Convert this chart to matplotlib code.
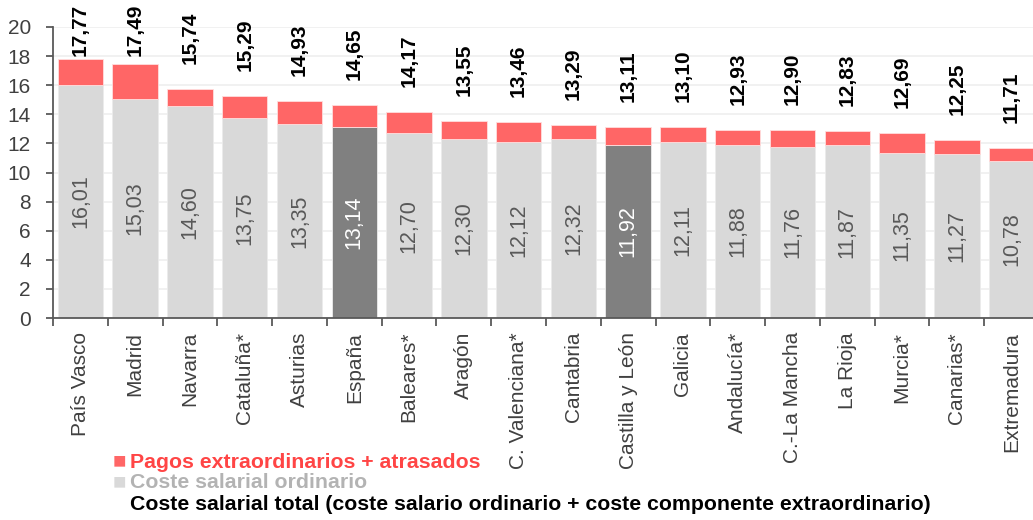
import matplotlib.pyplot as plt
import numpy as np

plt.rcParams['font.family'] = ['Liberation Sans', 'DejaVu Sans']

# data
regiones = ['País Vasco', 'Madrid', 'Navarra', 'Cataluña*', 'Asturias', 'España',
            'Baleares*', 'Aragón', 'C. Valenciana*', 'Cantabria', 'Castilla y León',
            'Galicia', 'Andalucía*', 'C.-La Mancha', 'La Rioja', 'Murcia*',
            'Canarias*', 'Extremadura']
ordinario = [16.01, 15.03, 14.60, 13.75, 13.35, 13.14, 12.70, 12.30, 12.12,
             12.32, 11.92, 12.11, 11.88, 11.76, 11.87, 11.35, 11.27, 10.78]
total = [17.77, 17.49, 15.74, 15.29, 14.93, 14.65, 14.17, 13.55, 13.46,
         13.29, 13.11, 13.10, 12.93, 12.90, 12.83, 12.69, 12.25, 11.71]
destacados = ['España', 'Castilla y León']

ordinario = np.array(ordinario)
total = np.array(total)
extra = total - ordinario

fig = plt.figure(figsize=(10.33, 5.2), dpi=100)
ax = fig.add_axes([53 / 1033, 202 / 520, 986 / 1033, 291 / 520])

x = np.arange(len(regiones))
col_base = ['#808080' if r in destacados else '#d9d9d9' for r in regiones]
ax.bar(x, ordinario, width=0.83, color=col_base, edgecolor='#ececec', linewidth=0.6, zorder=2)
ax.bar(x, extra, bottom=ordinario, width=0.83, color='#ff6666', edgecolor='#ffdede',
       linewidth=0.6, zorder=2)

# labels inside the bars
for i, r in enumerate(regiones):
    c = 'white' if r in destacados else '#595959'
    ax.text(x[i], ordinario[i] / 2, f'{ordinario[i]:.2f}'.replace('.', ','),
            rotation=90, ha='center', va='center', fontsize=15.5, color=c, zorder=3)

# total labels above the bars (clamped near the top)
for i in range(len(regiones)):
    y = min(total[i] + 1.72, 18.0)
    ax.text(x[i], y, f'{total[i]:.2f}'.replace('.', ','), rotation=90,
            ha='center', va='bottom', fontsize=15, fontweight='bold', color='black',
            clip_on=False, zorder=3)

ax.set_xlim(-0.5, len(regiones) - 0.5)
ax.set_ylim(0, 20)
ax.set_yticks(np.arange(0, 21, 2))
ax.yaxis.grid(True, color='#efefef', linewidth=1.2, zorder=0)
ax.set_axisbelow(True)

ax.set_xticks(x)
ax.set_xticklabels(regiones, rotation=90, fontsize=15, color='#404040')
ax.set_xticks(np.arange(len(regiones) + 1) - 0.5, minor=True)
ax.tick_params(axis='x', which='major', length=0, pad=10)
ax.tick_params(axis='x', which='minor', length=6, width=1.3, color='#595959')
ax.tick_params(axis='y', labelsize=15, labelcolor='#404040', length=5, width=1.3,
               color='#595959', pad=11)

for s in ['top', 'right']:
    ax.spines[s].set_visible(False)
for s in ['left', 'bottom']:
    ax.spines[s].set_color('#595959')
    ax.spines[s].set_linewidth(1.3)

# legend
fig.text(113 / 1033, 1 - 462 / 520, '■', fontsize=16, color='#ff6666', va='center', ha='left')
fig.text(130 / 1033, 1 - 462 / 520, 'Pagos extraordinarios + atrasados', fontsize=15.3,
         fontweight='bold', color='#ff4545', va='center', ha='left')
fig.text(113 / 1033, 1 - 483 / 520, '■', fontsize=16, color='#d9d9d9', va='center', ha='left')
fig.text(130 / 1033, 1 - 483 / 520, 'Coste salarial ordinario', fontsize=15.3,
         fontweight='bold', color='#b3b3b3', va='center', ha='left')
fig.text(130 / 1033, 1 - 505 / 520,
         'Coste salarial total (coste salario ordinario + coste componente extraordinario)',
         fontsize=15.3, fontweight='bold', color='black', va='center', ha='left')

fig.savefig('out.png', dpi=100)
